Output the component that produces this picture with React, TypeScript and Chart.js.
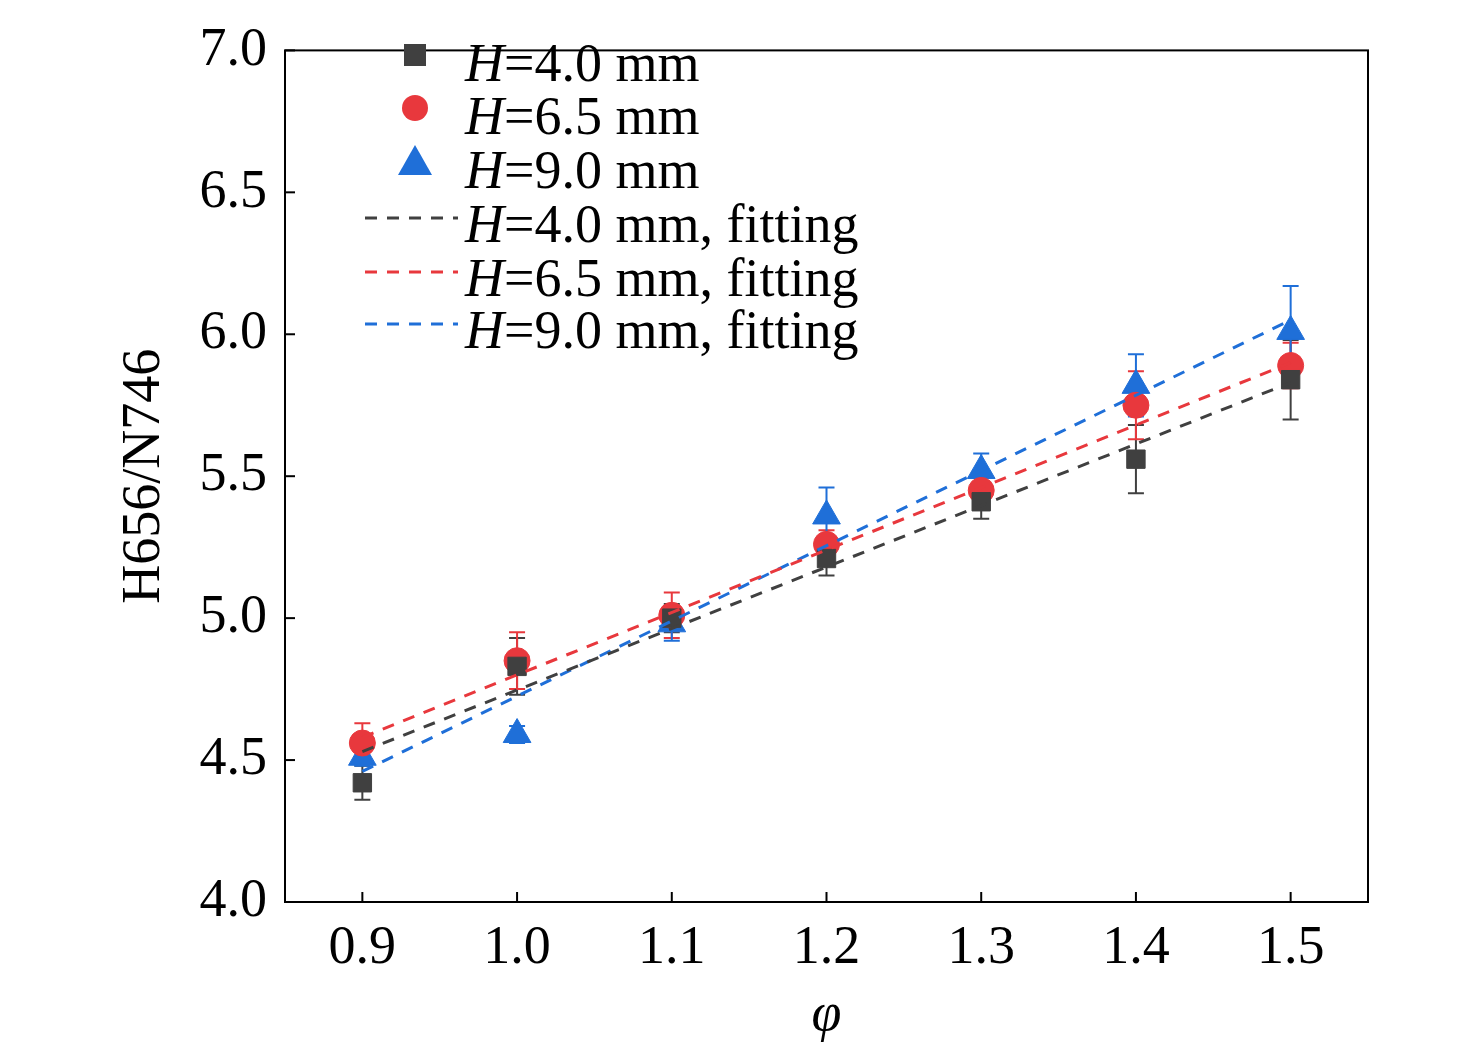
import React, { useEffect, useRef } from "react";
import { Chart, registerables } from "chart.js";
Chart.register(...registerables);

const xs = [0.9, 1.0, 1.1, 1.2, 1.3, 1.4, 1.5];
const h40 = [4.42, 4.83, 5.0, 5.21, 5.41, 5.56, 5.84];
const h40err = [0.06, 0.1, 0.05, 0.06, 0.06, 0.12, 0.14];
const h65 = [4.56, 4.85, 5.01, 5.26, 5.45, 5.75, 5.89];
const h65err = [0.07, 0.1, 0.08, 0.05, 0.05, 0.12, 0.08];
const h90 = [4.51, 4.59, 4.98, 5.36, 5.52, 5.82, 6.01];
const h90err = [0.03, 0.03, 0.06, 0.1, 0.06, 0.11, 0.16];
const fit40 = [4.53, 5.83];
const fit65 = [4.58, 5.9];
const fit90 = [4.46, 6.05];
const fitX = [0.9, 1.5];
const legendLabels = ["=4.0 mm", "=6.5 mm", "=9.0 mm", "=4.0 mm, fitting", "=6.5 mm, fitting", "=9.0 mm, fitting"];

const GRAY = "#404040", RED = "#e8383d", BLUE = "#1f6fd8";
const FONT = "'Liberation Serif', 'Times New Roman', serif";
const FS = 54;

export default function App() {
  const ref = useRef<HTMLCanvasElement>(null);
  useEffect(() => {
    const errs = [h40err, h65err, h90err];
    const colors = [GRAY, RED, BLUE];
    const pts = (ys: number[]) => xs.map((x, i) => ({ x, y: ys[i] }));
    const line = (ys: number[]) => fitX.map((x, i) => ({ x, y: ys[i] }));
    const plugin = {
      id: "extras",
      beforeDatasetsDraw(chart: any) {
        const ctx = chart.ctx, sx = chart.scales.x, sy = chart.scales.y;
        ctx.save();
        ctx.lineWidth = 2;
        [h40, h65, h90].forEach((ys, k) => {
          ctx.strokeStyle = colors[k];
          ys.forEach((y, i) => {
            const px = sx.getPixelForValue(xs[i]);
            const t = sy.getPixelForValue(y + errs[k][i]), b = sy.getPixelForValue(y - errs[k][i]);
            ctx.beginPath();
            ctx.moveTo(px, t); ctx.lineTo(px, b);
            ctx.moveTo(px - 8, t); ctx.lineTo(px + 8, t);
            ctx.moveTo(px - 8, b); ctx.lineTo(px + 8, b);
            ctx.stroke();
          });
        });
        ctx.restore();
      },
      afterDraw(chart: any) {
        const ctx = chart.ctx, a = chart.chartArea, sx = chart.scales.x, sy = chart.scales.y;
        ctx.save();
        ctx.strokeStyle = "#000"; ctx.lineWidth = 2;
        ctx.strokeRect(a.left, a.top, a.right - a.left, a.bottom - a.top);
        xs.forEach((x) => { const p = sx.getPixelForValue(x); ctx.beginPath(); ctx.moveTo(p, a.bottom); ctx.lineTo(p, a.bottom - 10); ctx.stroke(); });
        [4, 4.5, 5, 5.5, 6, 6.5, 7].forEach((y) => { const p = sy.getPixelForValue(y); ctx.beginPath(); ctx.moveTo(a.left, p); ctx.lineTo(a.left + 10, p); ctx.stroke(); });
        const rows = [65, 118, 172, 226, 280, 332];
        rows.forEach((ry, i) => {
          const c = colors[i % 3];
          if (i < 3) {
            ctx.fillStyle = c;
            ctx.beginPath();
            if (i === 0) ctx.rect(404, ry - 21, 22, 22);
            else if (i === 1) ctx.arc(415, ry - 10, 13, 0, Math.PI * 2);
            else { ctx.moveTo(415, ry - 27); ctx.lineTo(432, ry + 3); ctx.lineTo(398, ry + 3); ctx.closePath(); }
            ctx.fill();
          } else {
            ctx.strokeStyle = c; ctx.lineWidth = 3; ctx.setLineDash([12, 10]);
            ctx.beginPath(); ctx.moveTo(365, ry - 8); ctx.lineTo(458, ry - 8); ctx.stroke();
            ctx.setLineDash([]);
          }
          ctx.fillStyle = "#000"; ctx.textBaseline = "alphabetic"; ctx.textAlign = "left";
          ctx.font = `italic ${FS}px ${FONT}`;
          ctx.fillText("H", 465, ry + 16);
          const w = ctx.measureText("H").width;
          ctx.font = `${FS}px ${FONT}`;
          ctx.fillText(legendLabels[i], 465 + w, ry + 16);
        });
        ctx.restore();
      },
    };
    const chart = new Chart(ref.current!, {
      type: "scatter",
      data: {
        datasets: [
          { data: pts(h40), backgroundColor: GRAY, borderColor: GRAY, pointStyle: "rect", pointRadius: 13 } as any,
          { data: pts(h65), backgroundColor: RED, borderColor: RED, pointStyle: "circle", pointRadius: 13 },
          { data: pts(h90), backgroundColor: BLUE, borderColor: BLUE, pointStyle: "triangle", pointRadius: 16 },
          { type: "line", data: line(fit40), borderColor: GRAY, borderDash: [12, 10], borderWidth: 3, pointRadius: 0, order: -1 } as any,
          { type: "line", data: line(fit65), borderColor: RED, borderDash: [12, 10], borderWidth: 3, pointRadius: 0, order: -1 } as any,
          { type: "line", data: line(fit90), borderColor: BLUE, borderDash: [12, 10], borderWidth: 3, pointRadius: 0, order: -1 } as any,
        ],
      },
      options: {
        animation: false, responsive: false,
        layout: { padding: { left: 108, right: 108, top: 13, bottom: 0 } },
        plugins: { legend: { display: false }, tooltip: { enabled: false } },
        scales: {
          x: {
            type: "linear", min: 0.85, max: 1.55,
            afterBuildTicks: (s: any) => { s.ticks = xs.map((v) => ({ value: v })); },
            afterFit: (s: any) => { s.height = 150; },
            grid: { display: false, drawTicks: false },
            border: { display: false },
            ticks: { color: "#000", font: { family: FONT, size: FS }, padding: 14, callback: (v: any) => Number(v).toFixed(1) },
            title: { display: true, text: "φ", color: "#000", font: { family: FONT, size: FS, style: "italic" }, padding: { top: 8 } },
          },
          y: {
            min: 4, max: 7,
            afterFit: (s: any) => { s.width = 177; },
            grid: { display: false, drawTicks: false },
            border: { display: false },
            ticks: { stepSize: 0.5, color: "#000", font: { family: FONT, size: FS }, padding: 18, callback: (v: any) => Number(v).toFixed(1) },
            title: { display: true, text: "H656/N746", color: "#000", font: { family: FONT, size: FS }, padding: { bottom: 0 } },
          },
        },
      },
      plugins: [plugin],
    });
    return () => chart.destroy();
  }, []);
  return (
    <div style={{ position: "absolute", left: 0, top: 0, width: 1476, height: 1052, background: "#fff" }}>
      <canvas ref={ref} width={1476} height={1052} style={{ width: 1476, height: 1052 }} />
    </div>
  );
}
